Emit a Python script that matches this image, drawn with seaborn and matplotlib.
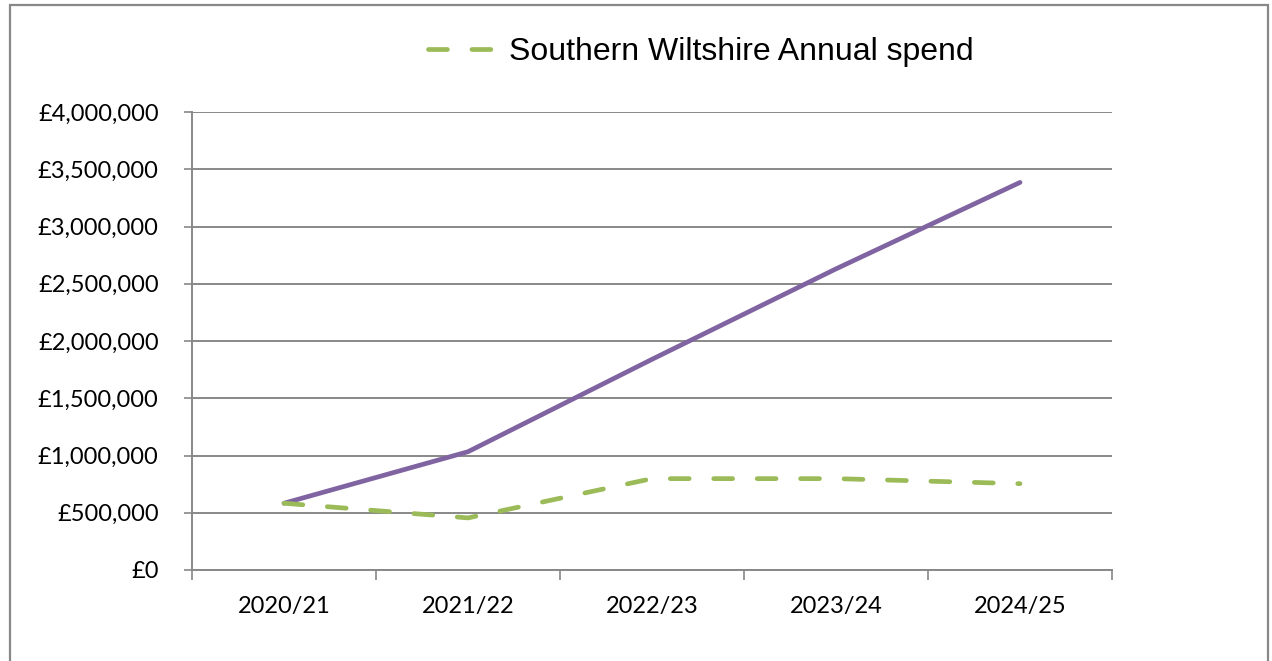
import matplotlib
matplotlib.use("Agg")
import matplotlib.pyplot as plt
import matplotlib.ticker as mticker
from matplotlib.lines import Line2D
from matplotlib.patches import Rectangle
import pandas as pd
import seaborn as sns

# Chart values
years = ["2020/21", "2021/22", "2022/23", "2023/24", "2024/25"]
total_spend = [583000, 1033000, 1840000, 2630000, 3385000]
southern_wiltshire = [583000, 455000, 798000, 798000, 754000]
legend_label = "Southern Wiltshire Annual spend"
y_ticks = [0, 500000, 1000000, 1500000, 2000000, 2500000, 3000000, 3500000, 4000000]

purple = "#8064A2"
green = "#9BBB59"
grid_grey = "#888888"
dash_pattern = [4.0, 5.2]

sns.set_theme(style="white")
plt.rcParams["font.family"] = ["Lato", "DejaVu Sans"]

df = pd.DataFrame({"Year": years, "Total": total_spend, "Southern": southern_wiltshire})

fig = plt.figure(figsize=(12.72, 6.61), dpi=100)
ax = fig.add_axes([192 / 1272, 1 - 570 / 661, 920 / 1272, 458 / 661])

sns.lineplot(data=df, x="Year", y="Total", ax=ax, color=purple, linewidth=3.4,
             sort=False, solid_capstyle="round", legend=False)
sns.lineplot(data=df, x="Year", y="Southern", ax=ax, color=green, linewidth=3.4,
             sort=False, legend=False)
ax.lines[1].set_dashes(dash_pattern)
ax.lines[1].set_dash_capstyle("round")

# y axis
ax.set_ylim(0, 4000000)
ax.set_yticks(y_ticks)
ax.yaxis.set_major_formatter(mticker.FuncFormatter(lambda v, p: "£{:,.0f}".format(v)))
ax.yaxis.grid(True, color=grid_grey, linewidth=1.4)
ax.set_axisbelow(True)

# x axis: tick marks between categories, labels under categories
ax.set_xlim(-0.5, len(years) - 0.5)
ax.set_xticks([i - 0.5 for i in range(len(years) + 1)])
ax.set_xticklabels([])
ax.set_xticks(range(len(years)), minor=True)
ax.set_xticklabels(years, minor=True)
ax.tick_params(axis="x", which="major", direction="out", length=7, width=1.2,
               color=grid_grey, bottom=True)
ax.tick_params(axis="x", which="minor", length=0, pad=19, labelsize=17, labelcolor="black")
ax.tick_params(axis="y", direction="out", length=6, width=1.2, color=grid_grey,
               left=True, pad=18, labelsize=17, labelcolor="black")
ax.set_xlabel("")
ax.set_ylabel("")

for side in ["top", "right"]:
    ax.spines[side].set_visible(False)
for side in ["left", "bottom"]:
    ax.spines[side].set_color(grid_grey)
    ax.spines[side].set_linewidth(1.4)

handle = Line2D([], [], color=green, linewidth=3.4, dashes=dash_pattern,
                dash_capstyle="round")
fig.legend([handle], [legend_label], loc="center", bbox_to_anchor=(0.551, 0.921),
           frameon=False, handlelength=2.1, handletextpad=0.45, labelcolor="black",
           prop={"family": ["Liberation Sans", "DejaVu Sans"], "size": 23})

# chart area border
fig.patches.append(Rectangle((10 / 1272, -0.02), 1258 / 1272, 1.02 - 5 / 661,
                             transform=fig.transFigure, fill=False,
                             edgecolor=grid_grey, linewidth=1.6))

fig.savefig("out.png", dpi=100)
